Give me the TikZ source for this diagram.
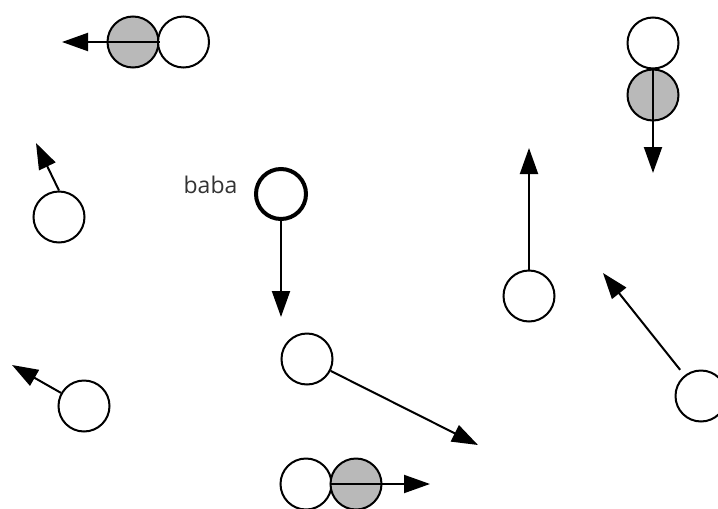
\documentclass[tikz,border=0pt]{standalone}
\usepackage{fontspec}
\setmainfont{Open Sans}
\usetikzlibrary{arrows.meta}
\definecolor{ballgray}{HTML}{B9B9B9}
\tikzset{
  ball/.style={circle, draw=black, line width=2pt, minimum size=51pt, inner sep=0pt, fill=white},
  grayball/.style={ball, fill=ballgray},
  thickball/.style={ball, line width=4pt, minimum size=50pt},
  arr/.style={line width=2pt, -{Triangle[length=26pt, width=18pt]}},
  lbl/.style={font=\fontsize{23}{27}\selectfont, text=black!80, inner sep=0pt}
}
\begin{document}
\begin{tikzpicture}[x=1pt, y=-1pt]
\useasboundingbox (0,0) rectangle (718,509);
% top-left pair
\node[grayball] (g1) at (133,42) {};
\node[ball] (w1) at (183.5,42) {};
\coordinate (t1) at (62,42);
\draw[arr] (g1.east) -- (t1);
% top-right pair
\node[ball] (w2) at (653,43) {};
\node[grayball] (g2) at (653,95) {};
\coordinate (t2) at (653,173);
\draw[arr] (g2.north) -- (t2);
% left circle
\node[ball] (c3) at (59,217) {};
\coordinate (t3) at (36,143);
\draw[arr] (c3.north) -- (t3);
% baba
\node[thickball] (baba) at (281,194) {};
\node[lbl, anchor=base] (lb) at (210.5,193) {baba};
\coordinate (t4) at (281,317);
\draw[arr] (baba) -- (t4);
% middle-right circle
\node[ball] (c7) at (529,296) {};
\coordinate (t7) at (529,148);
\draw[arr] (c7) -- (t7);
% far right circle
\node[ball] (c6) at (701,396) {};
\coordinate (t6) at (603,273);
\draw[arr, shorten <=7pt] (c6) -- (t6);
% centre circle
\node[ball] (c8) at (307,359) {};
\coordinate (t8) at (478,445);
\draw[arr] (c8) -- (t8);
% lower-left circle
\node[ball] (c9) at (84,406) {};
\coordinate (t9) at (12,365);
\draw[arr] (c9) -- (t9);
% bottom pair
\node[ball] (w3) at (306,484) {};
\node[grayball] (g3) at (356,484) {};
\coordinate (t10) at (430,484);
\draw[arr] (g3.west) -- (t10);
\end{tikzpicture}
\end{document}
